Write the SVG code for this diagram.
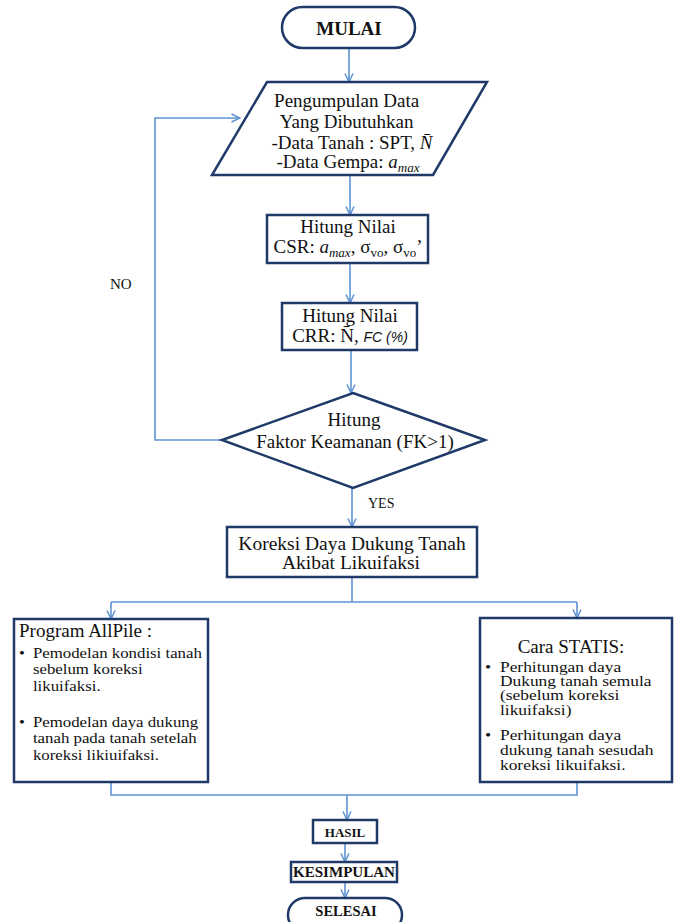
<svg xmlns="http://www.w3.org/2000/svg" width="676" height="922" viewBox="0 0 676 922">
<style>
.t{font-family:"Liberation Serif","Times New Roman",serif;fill:#111;}
.b{stroke:#1f3a68;stroke-width:2.5;fill:#fff;}
.c{stroke:#5e93d2;stroke-width:1.6;fill:none;}
.ca{stroke:#5e93d2;stroke-width:1.6;fill:none;marker-end:url(#ah);}
</style>
<defs>
<marker id="ah" viewBox="0 0 10 10" refX="9.5" refY="5" markerWidth="10" markerHeight="10" orient="auto" markerUnits="userSpaceOnUse">
<path d="M1,1 L9.5,5 L1,9" fill="none" stroke="#5e93d2" stroke-width="1.5"/>
</marker>
</defs>
<rect width="676" height="922" fill="#fff"/>

<g id="connectors">
<line class="ca" x1="349" y1="48" x2="349" y2="82"/>
<line class="ca" x1="350" y1="175" x2="350" y2="215"/>
<line class="ca" x1="350" y1="263" x2="350" y2="303"/>
<line class="ca" x1="351" y1="350" x2="351" y2="393"/>
<line class="ca" x1="352" y1="488" x2="352" y2="527"/>
<polyline class="ca" points="222,440 155,440 155,118 240,118"/>
<line class="c" x1="352" y1="577" x2="352" y2="602"/>
<line class="c" x1="111" y1="602" x2="577" y2="602"/>
<line class="ca" x1="111" y1="602" x2="111" y2="619"/>
<line class="ca" x1="577" y1="602" x2="577" y2="618"/>
<polyline class="c" points="111,782 111,795 577,795 577,782"/>
<line class="ca" x1="347" y1="795" x2="347" y2="820"/>
<line class="ca" x1="345" y1="843" x2="345" y2="862"/>
<line class="ca" x1="345" y1="882" x2="345" y2="898"/>
<text class="t" x="110" y="289" font-size="15">NO</text>
<text class="t" x="368" y="508" font-size="14">YES</text>
</g>

<g id="mulai">
<rect class="b" x="282" y="7" width="133" height="41" rx="20.5"/>
<text class="t" x="349" y="35" font-size="19" font-weight="bold" text-anchor="middle">MULAI</text>
</g>

<g id="pengumpulan">
<polygon class="b" points="267,82 487,82 433,175 212,175"/>
<text class="t" font-size="19" text-anchor="middle">
<tspan x="349" y="107">Pengumpulan Data</tspan>
<tspan x="349" y="128">Yang Dibutuhkan</tspan>
<tspan x="352" y="149">-Data Tanah : SPT, <tspan font-style="italic">N̄</tspan></tspan>
</text>
<text class="t" font-size="19" text-anchor="middle" x="348" y="168">-Data Gempa: <tspan font-style="italic">a</tspan><tspan font-style="italic" font-size="13" dy="4">max</tspan></text>
</g>

<g id="csr">
<rect class="b" x="267" y="215" width="161" height="48"/>
<text class="t" x="348" y="233" font-size="19" text-anchor="middle">Hitung Nilai</text>
<text class="t" x="348" y="253" font-size="19" text-anchor="middle">CSR: <tspan font-style="italic">a</tspan><tspan font-style="italic" font-size="13" dy="4">max</tspan><tspan dy="-4">, σ</tspan><tspan font-size="13" dy="4">vo</tspan><tspan dy="-4">, σ</tspan><tspan font-size="13" dy="4">vo</tspan><tspan dy="-4">’</tspan></text>
</g>

<g id="crr">
<rect class="b" x="282" y="303" width="135" height="47"/>
<text class="t" x="350" y="322" font-size="19" text-anchor="middle">Hitung Nilai</text>
<text class="t" x="350" y="342" font-size="19" text-anchor="middle">CRR: N̄, <tspan font-family="Liberation Sans, Arial, sans-serif" font-style="italic" font-size="14">FC (%)</tspan></text>
</g>

<g id="fk">
<polygon class="b" points="353,393 485,440 353,488 222,440"/>
<text class="t" x="354" y="426" font-size="19" text-anchor="middle">Hitung</text>
<text class="t" x="355" y="448" font-size="19" text-anchor="middle">Faktor Keamanan (FK&gt;1)</text>
</g>

<g id="koreksi">
<rect class="b" x="227" y="527" width="250" height="50"/>
<text class="t" x="352" y="550" font-size="19.5" text-anchor="middle">Koreksi Daya Dukung Tanah</text>
<text class="t" x="351" y="569" font-size="19.5" text-anchor="middle">Akibat Likuifaksi</text>
</g>

<g id="allpile">
<rect class="b" x="14" y="619" width="194" height="163"/>
<text class="t" x="19" y="637" font-size="19">Program AllPile :</text>
<g transform="translate(19,0) scale(1.16,1)">
<text class="t" font-size="14.5">
<tspan x="0" y="658">•</tspan><tspan x="12" y="658">Pemodelan kondisi tanah</tspan>
<tspan x="12" y="674.5">sebelum koreksi</tspan>
<tspan x="12" y="691">likuifaksi.</tspan>
<tspan x="0" y="727">•</tspan><tspan x="12" y="727">Pemodelan daya dukung</tspan>
<tspan x="12" y="743.5">tanah pada tanah setelah</tspan>
<tspan x="12" y="760">koreksi likiuifaksi.</tspan>
</text>
</g>
</g>

<g id="statis">
<rect class="b" x="480" y="618" width="192" height="164"/>
<text class="t" x="571" y="653" font-size="19" text-anchor="middle">Cara STATIS:</text>
<g transform="translate(485,0) scale(1.2,1)">
<text class="t" font-size="14.5">
<tspan x="0" y="672">•</tspan><tspan x="12.5" y="672">Perhitungan daya</tspan>
<tspan x="12.5" y="686">Dukung tanah semula</tspan>
<tspan x="12.5" y="700">(sebelum koreksi</tspan>
<tspan x="12.5" y="715">likuifaksi)</tspan>
<tspan x="0" y="740">•</tspan><tspan x="12.5" y="740">Perhitungan daya</tspan>
<tspan x="12.5" y="755">dukung tanah sesudah</tspan>
<tspan x="12.5" y="770">koreksi likuifaksi.</tspan>
</text>
</g>
</g>

<g id="hasil">
<rect class="b" x="313" y="820" width="64" height="23"/>
<text class="t" x="345" y="837" font-size="13" font-weight="bold" text-anchor="middle">HASIL</text>
</g>

<g id="kesimpulan">
<rect class="b" x="291" y="862" width="106" height="20"/>
<text class="t" x="344" y="877" font-size="14" font-weight="bold" text-anchor="middle" textLength="102" lengthAdjust="spacingAndGlyphs">KESIMPULAN</text>
</g>

<g id="selesai">
<rect class="b" x="288" y="898" width="114" height="34" rx="17"/>
<text class="t" x="346" y="916" font-size="14.5" font-weight="bold" text-anchor="middle">SELESAI</text>
</g>
</svg>
